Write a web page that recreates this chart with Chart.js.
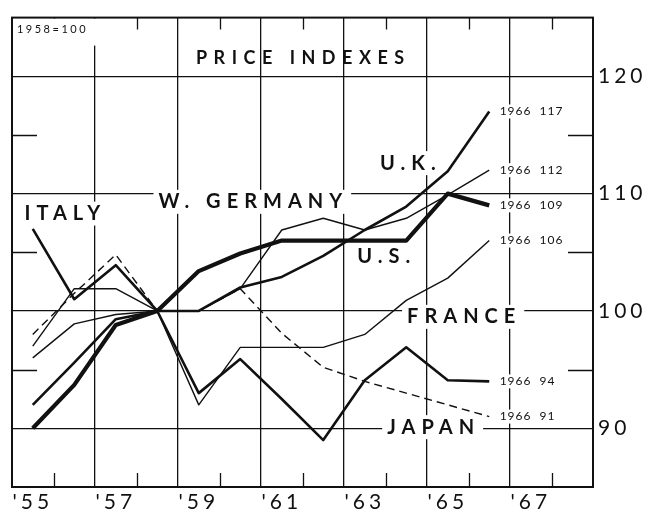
<!DOCTYPE html>
<html>
<head>
<meta charset="utf-8">
<script src="https://cdn.jsdelivr.net/npm/chart.js@4.4.1/dist/chart.umd.min.js"></script>
<style>
  html, body { margin: 0; padding: 0; background: #fff; }
  #wrap { position: relative; width: 658px; height: 512px; }
</style>
</head>
<body>
<div id="wrap"><canvas id="priceChart"></canvas></div>
<script>
// price indexes, 1958 = 100
const years = [1955, 1956, 1957, 1958, 1959, 1960, 1961, 1962, 1963, 1964, 1965, 1966];
const usIndex      = [90, 93.7, 98.8, 100, 103.4, 104.9, 106, 106, 106, 106, 110, 109];
const ukIndex      = [92, 95.6, 99.3, 100, 100, 102, 102.9, 104.7, 106.9, 108.9, 111.9, 117];
const germanyIndex = [97, 101.9, 101.9, 100, 100, 101.9, 106.9, 107.9, 106.9, 107.9, 109.9, 112];
const franceIndex  = [96, 98.9, 99.7, 100, 92, 96.9, 96.9, 96.9, 98, 100.9, 102.8, 106];
const italyIndex   = [107, 101, 103.9, 100, 93, 95.9, 92.5, 89, 94.1, 96.9, 94.1, 94];
const japanIndex   = [98, 101.5, 104.8, 100, 100, 101.9, 98.1, 95.2, 94, 93, 92, 91];

const yearLabels = [1955, 1957, 1959, 1961, 1963, 1965, 1967];
const gridYears = [1956.5, 1958.5, 1960.5, 1962.5, 1964.5, 1966.5];
const minorYears = [1955.5, 1957.5, 1959.5, 1961.5, 1963.5, 1965.5, 1967.5];
const indexTicks = [90, 100, 110, 120];
const minorIndex = [95, 105, 115];

const INK = '#111';
const FONT = 'Lato, "DejaVu Sans", sans-serif';

// country names placed in data units (year, index)
const countryLabels = [
  { text: 'ITALY', x: 1954.8, y: 108.3 },
  { text: 'W. GERMANY', x: 1958.03, y: 109.3 },
  { text: 'U.K.', x: 1963.37, y: 112.6 },
  { text: 'U.S.', x: 1962.82, y: 104.6 },
  { text: 'FRANCE', x: 1964.02, y: 99.5 },
  { text: 'JAPAN', x: 1963.54, y: 90.1 }
];

const series = [
  { data: usIndex, width: 4.2 },
  { data: ukIndex, width: 2.6 },
  { data: italyIndex, width: 2.6 },
  { data: germanyIndex, width: 1.4 },
  { data: franceIndex, width: 1.4 },
  { data: japanIndex, width: 1.4, dash: [8, 5] }
];

function drawText(ctx, text, x, y, opts) {
  ctx.font = opts.font;
  ctx.letterSpacing = (opts.spacing || 0) + 'px';
  ctx.textBaseline = 'middle';
  ctx.textAlign = 'left';
  const w = ctx.measureText(text).width;
  const left = opts.align === 'center' ? x - w / 2 : x;
  if (opts.box) {
    const h = opts.box;
    ctx.fillStyle = '#fff';
    ctx.fillRect(left - 5, y - h / 2, w + 8, h);
  }
  ctx.fillStyle = INK;
  ctx.fillText(text, left, y);
}

const decor = {
  id: 'decor',
  beforeDraw(chart) {
    chart.ctx.letterSpacing = '4px';
  },
  beforeDatasetsDraw(chart) {
    const { ctx, chartArea: a, scales: { x, y } } = chart;
    ctx.save();
    ctx.letterSpacing = '0px';
    ctx.strokeStyle = INK;
    ctx.lineWidth = 1.3;
    ctx.beginPath();
    minorYears.forEach(v => {
      const px = Math.round(x.getPixelForValue(v)) + 0.5;
      ctx.moveTo(px, a.bottom);
      ctx.lineTo(px, a.bottom - 14);
      ctx.moveTo(px, a.top);
      ctx.lineTo(px, a.top + 12);
    });
    minorIndex.forEach(v => {
      const py = Math.round(y.getPixelForValue(v)) + 0.5;
      ctx.moveTo(a.left, py);
      ctx.lineTo(a.left + 25, py);
      ctx.moveTo(a.right, py);
      ctx.lineTo(a.right - 25, py);
    });
    ctx.stroke();

    // base note in the corner
    ctx.fillStyle = '#fff';
    ctx.fillRect(a.left + 1, a.top + 1, 88, 27);
    drawText(ctx, '1958=100', x.getPixelForValue(1954.62), y.getPixelForValue(124), {
      font: `11px ${FONT}`, spacing: 2.5
    });

    drawText(ctx, 'PRICE INDEXES', x.getPixelForValue(1961.52), y.getPixelForValue(121.55), {
      font: `bold 18px ${FONT}`, spacing: 6.5, align: 'center'
    });

    countryLabels.forEach(l => {
      drawText(ctx, l.text, x.getPixelForValue(l.x), y.getPixelForValue(l.y), {
        font: `bold 20px ${FONT}`, spacing: 6, box: 24
      });
    });

    // closing values beside each line
    series.forEach(s => {
      const last = s.data.length - 1;
      drawText(ctx, `${years[last]}  ${s.data[last]}`, x.getPixelForValue(years[last] + 0.25),
        y.getPixelForValue(s.data[last]), { font: `12px ${FONT}`, spacing: 1, box: 14 });
    });
    ctx.restore();
  },
  afterDraw(chart) {
    const { ctx, chartArea: a } = chart;
    ctx.save();
    ctx.strokeStyle = INK;
    ctx.lineWidth = 2;
    ctx.strokeRect(a.left, a.top, a.right - a.left, a.bottom - a.top);
    ctx.restore();
  }
};

new Chart(document.getElementById('priceChart'), {
  type: 'line',
  data: {
    datasets: series.map((s, i) => ({
      data: years.map((yr, j) => ({ x: yr, y: s.data[j] })),
      borderColor: INK,
      borderWidth: s.width,
      borderDash: s.dash || [],
      borderJoinStyle: 'round',
      borderCapStyle: 'butt',
      pointRadius: 0,
      tension: 0,
      fill: false,
      order: i
    }))
  },
  options: {
    responsive: true,
    maintainAspectRatio: false,
    animation: false,
    events: [],
    layout: { padding: { left: 12, top: 5, right: 0, bottom: 0 } },
    plugins: { legend: { display: false }, tooltip: { enabled: false } },
    scales: {
      x: {
        type: 'linear',
        min: 1954.5,
        max: 1968.5,
        afterBuildTicks: scale => {
          scale.ticks = yearLabels.concat(gridYears).sort((a, b) => a - b).map(v => ({ value: v }));
        },
        afterFit: scale => { scale.height = 25; },
        border: { display: false },
        grid: {
          drawTicks: false,
          lineWidth: 1.3,
          color: ctx => (ctx.tick && gridYears.includes(ctx.tick.value) ? INK : 'rgba(0,0,0,0)')
        },
        ticks: {
          autoSkip: false,
          maxRotation: 0,
          padding: 3,
          color: INK,
          font: { family: FONT, size: 21 },
          callback: v => (yearLabels.includes(v) ? "'" + String(v).slice(2) : '')
        }
      },
      y: {
        position: 'right',
        min: 85,
        max: 125,
        afterBuildTicks: scale => {
          scale.ticks = indexTicks.map(v => ({ value: v }));
        },
        afterFit: scale => { scale.width = 65; },
        border: { display: false },
        grid: { drawTicks: false, lineWidth: 1.3, color: INK },
        ticks: {
          padding: 5,
          color: INK,
          font: { family: FONT, size: 21 },
          callback: v => String(v)
        }
      }
    }
  },
  plugins: [decor]
});
</script>
</body>
</html>
